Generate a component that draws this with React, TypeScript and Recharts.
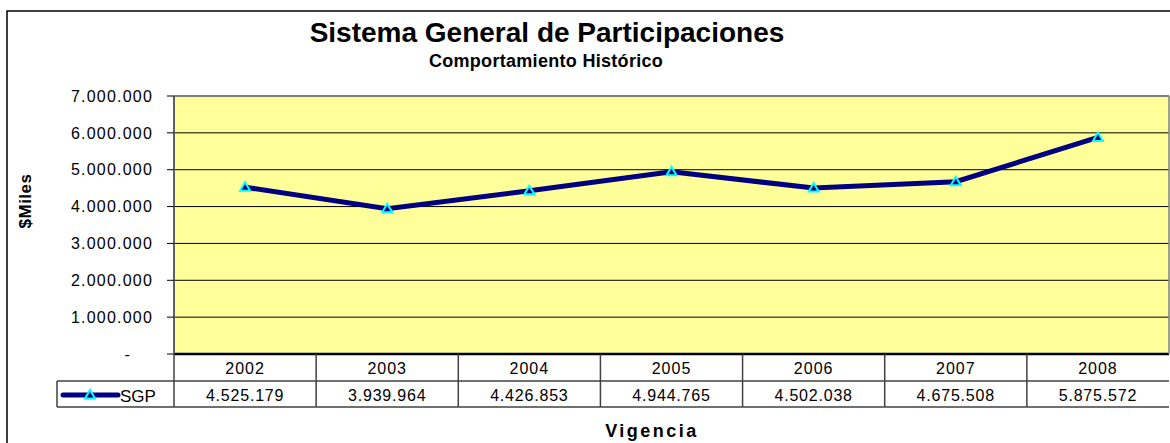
import React from "react";
import {
  LineChart,
  Line,
  XAxis,
  YAxis,
  CartesianGrid,
  ReferenceLine,
} from "recharts";

// Sistema General de Participaciones, $Miles
const years = ["2002", "2003", "2004", "2005", "2006", "2007", "2008"];
const sgp = [4525179, 3939964, 4426853, 4944765, 4502038, 4675508, 5875572];
const yTicks = [0, 1000000, 2000000, 3000000, 4000000, 5000000, 6000000, 7000000];
const gridValues = [1000000, 2000000, 3000000, 4000000, 5000000, 6000000];

const data = years.map((year, i) => ({ year, sgp: sgp[i] }));

const W = 1170;
const H = 443;
const PLOT_L = 174;
const PLOT_T = 96;
const PLOT_R = 1169;
const PLOT_B = 354;
const Y_AXIS_W = 110;
const X_AXIS_H = 53;
const ROW_H = 26;
const BAND = (PLOT_R - PLOT_L) / years.length;

const FONT = '"Liberation Sans", Arial, sans-serif';
const NAVY = "#000080";
const CYAN = "#00FFFF";
const TABLE_LINE = "#404040";

const fmt = (v: number) =>
  String(Math.round(v)).replace(/\B(?=(\d{3})+(?!\d))/g, ".");

function YTick({ x, y, payload }: any) {
  const v = payload.value as number;
  return (
    <text
      x={v === 0 ? x - 22 : x}
      y={y}
      dy="0.36em"
      textAnchor="end"
      fontFamily={FONT}
      fontSize={16}
      letterSpacing={1.2}
      fill="#000"
    >
      {v === 0 ? "-" : fmt(v)}
    </text>
  );
}

function TableTick({ x, y, payload, index }: any) {
  const left = x - BAND / 2;
  const right = x + BAND / 2;
  return (
    <g>
      <line x1={left} y1={y} x2={left} y2={y + 2 * ROW_H + 1} stroke={TABLE_LINE} strokeWidth={1.5} />
      <line x1={left} y1={y + ROW_H + 1} x2={right} y2={y + ROW_H + 1} stroke={TABLE_LINE} strokeWidth={1.5} />
      <line x1={left} y1={y + 2 * ROW_H + 1} x2={right} y2={y + 2 * ROW_H + 1} stroke={TABLE_LINE} strokeWidth={1.5} />
      <text x={x} y={y + 20} textAnchor="middle" fontFamily={FONT} fontSize={16} letterSpacing={1} fill="#000">
        {payload.value}
      </text>
      <text x={x} y={y + 47} textAnchor="middle" fontFamily={FONT} fontSize={16} letterSpacing={0.8} fill="#000">
        {fmt(sgp[index])}
      </text>
    </g>
  );
}

function TriangleDot({ cx, cy }: any) {
  if (cx == null || cy == null) return null;
  return (
    <polygon
      points={`${cx},${cy - 5} ${cx - 5},${cy + 3.5} ${cx + 5},${cy + 3.5}`}
      fill={NAVY}
      stroke={CYAN}
      strokeWidth={2}
    />
  );
}

export default function App() {
  return (
    <div style={{ position: "absolute", left: 0, top: 0, width: W, height: H, background: "#fff" }}>
      <LineChart
        width={W}
        height={H}
        data={data}
        margin={{
          top: PLOT_T,
          right: W - PLOT_R,
          left: PLOT_L - Y_AXIS_W,
          bottom: H - PLOT_B - X_AXIS_H,
        }}
      >
        <CartesianGrid
          vertical={false}
          horizontalValues={gridValues}
          stroke="#000"
          strokeWidth={1}
          fill="#FFFF99"
          fillOpacity={1}
        />
        <ReferenceLine y={7000000} stroke="#808080" strokeWidth={2} />
        <XAxis
          dataKey="year"
          height={X_AXIS_H}
          interval={0}
          padding={{ left: BAND / 2, right: BAND / 2 }}
          tickSize={0}
          tickMargin={0}
          tickLine={false}
          axisLine={{ stroke: "#000", strokeWidth: 2.5 }}
          tick={<TableTick />}
        />
        <YAxis
          width={Y_AXIS_W}
          domain={[0, 7000000]}
          ticks={yTicks}
          interval={0}
          tickSize={7}
          tickMargin={14}
          tickLine={{ stroke: "#000" }}
          axisLine={{ stroke: "#606060", strokeWidth: 2 }}
          tick={<YTick />}
        />
        <Line
          type="linear"
          dataKey="sgp"
          stroke={NAVY}
          strokeWidth={5}
          dot={<TriangleDot />}
          activeDot={false}
          isAnimationActive={false}
        />
      </LineChart>

      <svg
        width={W}
        height={H}
        style={{ position: "absolute", left: 0, top: 0, pointerEvents: "none" }}
      >
        {/* outer frame (cut off at right and bottom) */}
        <rect x={7} y={11} width={W} height={H} fill="none" stroke="#000" strokeWidth={1.5} />
        {/* plot frame right edge */}
        <line x1={PLOT_R} y1={PLOT_T} x2={PLOT_R} y2={PLOT_B} stroke="#808080" strokeWidth={1.5} />

        <text x={547} y={42} textAnchor="middle" fontFamily={FONT} fontSize={28} fontWeight="bold" fill="#000">
          Sistema General de Participaciones
        </text>
        <text x={546} y={67} textAnchor="middle" fontFamily={FONT} fontSize={18} fontWeight="bold" letterSpacing={0.3} fill="#000">
          Comportamiento Histórico
        </text>

        <text
          transform="translate(31,201) rotate(-90)"
          textAnchor="middle"
          fontFamily={FONT}
          fontSize={17}
          fontWeight="bold"
          letterSpacing={0.5}
          fill="#000"
        >
          $Miles
        </text>
        <text x={652} y={437} textAnchor="middle" fontFamily={FONT} fontSize={18} fontWeight="bold" letterSpacing={2.5} fill="#000">
          Vigencia
        </text>

        {/* legend key cell of the data table */}
        <line x1={57} y1={381} x2={PLOT_L} y2={381} stroke={TABLE_LINE} strokeWidth={1.5} />
        <line x1={57} y1={407} x2={PLOT_L} y2={407} stroke={TABLE_LINE} strokeWidth={1.5} />
        <line x1={57} y1={381} x2={57} y2={407} stroke={TABLE_LINE} strokeWidth={1.5} />
        <line x1={63} y1={395} x2={118} y2={395} stroke={NAVY} strokeWidth={5} strokeLinecap="round" />
        <polygon points="90,390 85,398.5 95,398.5" fill={NAVY} stroke={CYAN} strokeWidth={2} />
        <text x={120} y={402} fontFamily={FONT} fontSize={17} fill="#000">
          SGP
        </text>
      </svg>
    </div>
  );
}
